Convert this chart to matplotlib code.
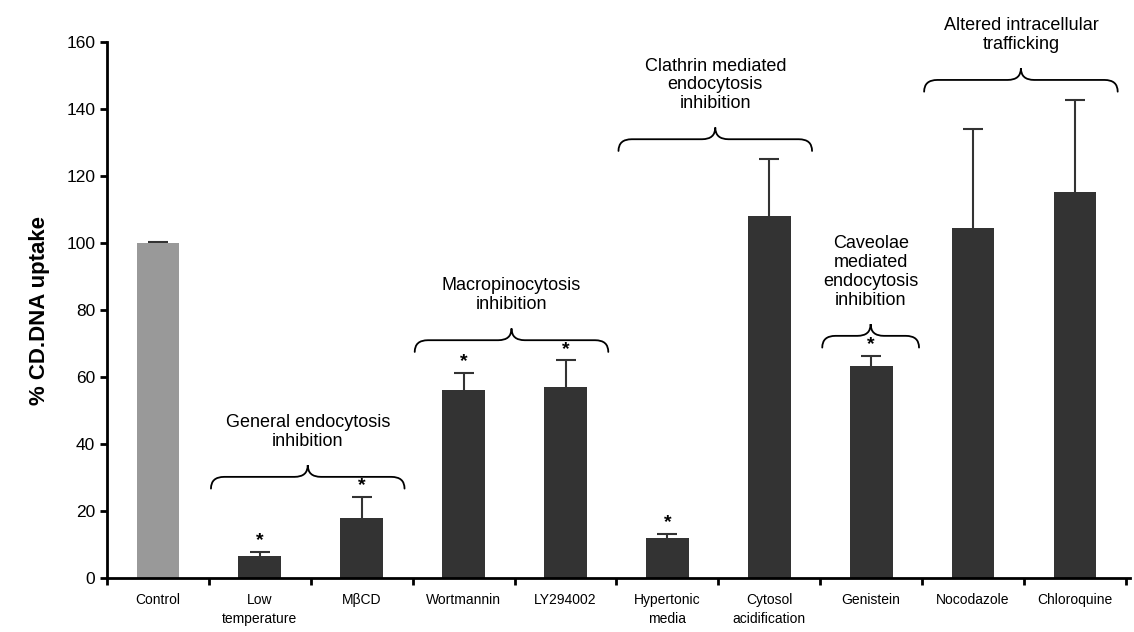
import numpy as np
import matplotlib
matplotlib.use("Agg")
import matplotlib.pyplot as plt
from matplotlib.path import Path
from matplotlib.patches import PathPatch

plt.rcParams['font.family'] = ['Liberation Sans', 'DejaVu Sans']

# Data
categories = ["Control", "Low\ntemperature", "M\u03b2CD", "Wortmannin", "LY294002",
              "Hypertonic\nmedia", "Cytosol\nacidification", "Genistein",
              "Nocodazole", "Chloroquine"]
uptake = [100.0, 6.6, 17.9, 56.0, 57.0, 12.0, 108.0, 63.3, 104.5, 115.2]
upper_err = [0.2, 1.3, 6.3, 5.2, 8.0, 1.2, 17.0, 3.0, 29.5, 27.5]
significant = [False, True, True, True, True, True, False, True, False, False]

# Pathway groups: (label, first category, last category)
group_labels = ["General endocytosis\ninhibition", "Macropinocytosis\ninhibition",
                "Clathrin mediated\nendocytosis\ninhibition",
                "Caveolae\nmediated\nendocytosis\ninhibition",
                "Altered intracellular\ntrafficking"]
group_first = [1, 3, 5, 7, 8]
group_last = [2, 4, 6, 7, 9]


def draw_brace(ax, x0, x1, y, h=7.0, rx=0.13):
    xm = (x0 + x1) / 2
    ym = y + h / 2
    verts = [(x0, y), (x0, ym), (x0 + rx, ym),
             (xm - rx, ym),
             (xm, ym), (xm, y + h),
             (xm, ym), (xm + rx, ym),
             (x1 - rx, ym),
             (x1, ym), (x1, y)]
    codes = [Path.MOVETO, Path.CURVE3, Path.CURVE3,
             Path.LINETO,
             Path.CURVE3, Path.CURVE3,
             Path.CURVE3, Path.CURVE3,
             Path.LINETO,
             Path.CURVE3, Path.CURVE3]
    ax.add_patch(PathPatch(Path(verts, codes), fill=False, lw=1.3, color='black',
                           capstyle='round'))


fig = plt.figure(figsize=(11.34, 6.32), dpi=100)
ax = fig.add_axes([0.0944, 0.0854, 0.902, 0.848])

x = np.arange(len(categories))
colors = ['#999999'] + ['#333333'] * (len(categories) - 1)
ax.bar(x, uptake, width=0.42, color=colors, zorder=2)
_, caps, _ = ax.errorbar(x, uptake, yerr=[np.zeros(len(x)), upper_err], fmt='none',
                         ecolor='#333333', elinewidth=1.5, capsize=7, capthick=1.5,
                         zorder=1)
caps[0].set_visible(False)

for i, s in enumerate(significant):
    if s:
        ax.text(x[i], uptake[i] + upper_err[i] + 0.8, "*", ha='center', va='bottom',
                fontsize=14, fontweight='bold')

# braces and group titles
for lab, a, b in zip(group_labels, group_first, group_last):
    tops = [uptake[k] + upper_err[k] for k in range(a, b + 1)]
    y0 = max(tops) + 2.5
    if a == b:
        x0, x1 = a - 0.48, a + 0.47
    else:
        x0, x1 = a - 0.48, b + 0.42
    draw_brace(ax, x0, x1, y0)
    ax.text((x0 + x1) / 2, y0 + 11.5, lab, ha='center', va='bottom',
            fontsize=13, linespacing=1.15)

ax.set_xlim(-0.5, len(categories) - 0.46)
ax.set_ylim(0, 160)
ax.set_yticks(np.arange(0, 161, 20))
ax.set_xticks(x)
ax.set_xticklabels(categories, fontsize=10, linespacing=1.45)
ax.set_xticks(np.arange(-0.5, len(categories), 1), minor=True)
ax.tick_params(axis='x', which='major', length=0, pad=11)
ax.tick_params(axis='x', which='minor', length=5, width=2, direction='out')
ax.tick_params(axis='y', labelsize=12.5, length=5, width=2, direction='out')
ax.set_ylabel("% CD.DNA uptake", fontsize=16, fontweight='bold', labelpad=12)

for side in ['top', 'right']:
    ax.spines[side].set_visible(False)
for side in ['left', 'bottom']:
    ax.spines[side].set_linewidth(2)

fig.savefig("out.png", dpi=100)
